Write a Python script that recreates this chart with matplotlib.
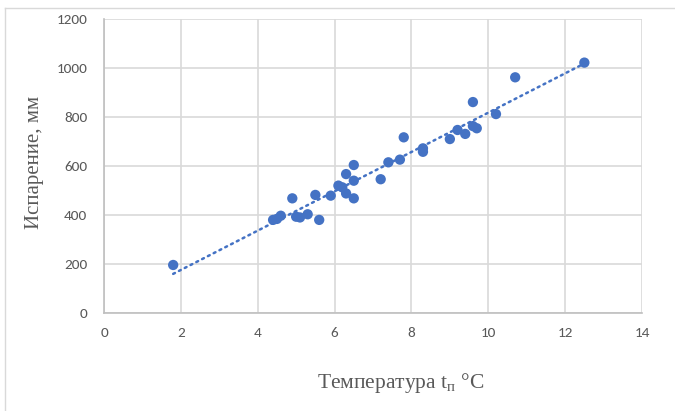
import matplotlib
matplotlib.use("Agg")
import matplotlib.pyplot as plt
import numpy as np

# temperature (deg C) and evaporation (mm)
temp = [1.8, 4.4, 4.5, 4.6, 4.9, 5.0, 5.1, 5.3, 5.5, 5.6, 5.9,
        6.1, 6.2, 6.3, 6.3, 6.5, 6.5, 6.5, 7.2, 7.4, 7.7, 7.8,
        8.3, 8.3, 9.0, 9.2, 9.4, 9.6, 9.6, 9.7, 10.2, 10.7, 12.5]
evap = [196, 380, 384, 397, 468, 393, 390, 403, 482, 380, 479,
        520, 513, 567, 488, 604, 540, 468, 546, 615, 626, 717,
        672, 658, 710, 747, 731, 861, 763, 754, 812, 962, 1022]

x_ticks = [0, 2, 4, 6, 8, 10, 12, 14]
y_ticks = [0, 200, 400, 600, 800, 1000, 1200]

blue = "#4472C4"
grid_col = "#d9d9d9"
text_col = "#595959"

plt.rcParams["mathtext.fontset"] = "custom"
plt.rcParams["mathtext.rm"] = "Liberation Serif"
plt.rcParams["mathtext.it"] = "Liberation Serif:italic"

fig = plt.figure(figsize=(6.75, 4.11), dpi=100)
ax = fig.add_axes([104 / 675, 1 - 313 / 411, (642 - 104) / 675, (313 - 19) / 411])

# linear trend line
k, b = np.polyfit(temp, evap, 1)
xs = np.array([min(temp), max(temp)])
ax.plot(xs, k * xs + b, color=blue, lw=1.8, linestyle=(0, (0.8, 1.8)),
        dash_capstyle="round", zorder=2)

ax.scatter(temp, evap, s=55, color=blue, edgecolors="none", zorder=3)

ax.set_xlim(0, 14)
ax.set_ylim(0, 1200)
ax.set_xticks(x_ticks)
ax.set_yticks(y_ticks)
ax.grid(True, color=grid_col, lw=1.2)
ax.set_axisbelow(True)
for s in ["top", "right"]:
    ax.spines[s].set_visible(False)
for s in ["left", "bottom"]:
    ax.spines[s].set_color("#bfbfbf")
    ax.spines[s].set_linewidth(1.2)
ax.tick_params(length=0, labelsize=11, colors=text_col, pad=12)
ax.tick_params(axis="x", pad=10)
for lab in ax.get_xticklabels() + ax.get_yticklabels():
    lab.set_family(["Carlito", "Liberation Sans", "DejaVu Sans"])

fig.text(35 / 675, 1 - 162 / 411, "Испарение, мм", rotation=90,
         ha="center", va="center", fontsize=15, color=text_col,
         family="Liberation Serif")
fig.text(401 / 675, 1 - 383 / 411, "Температура t$_\\mathrm{п}$ °C",
         ha="center", va="center", fontsize=15.5, color=text_col,
         family="Liberation Serif")

# chart border fragments (top and left edges)
fig.add_artist(plt.Line2D([5 / 675, 1], [1 - 8 / 411, 1 - 8 / 411],
                          transform=fig.transFigure, color=grid_col, lw=1))
fig.add_artist(plt.Line2D([5 / 675, 5 / 675], [0, 1 - 8 / 411],
                          transform=fig.transFigure, color=grid_col, lw=1))

fig.savefig("out.png", dpi=100)
